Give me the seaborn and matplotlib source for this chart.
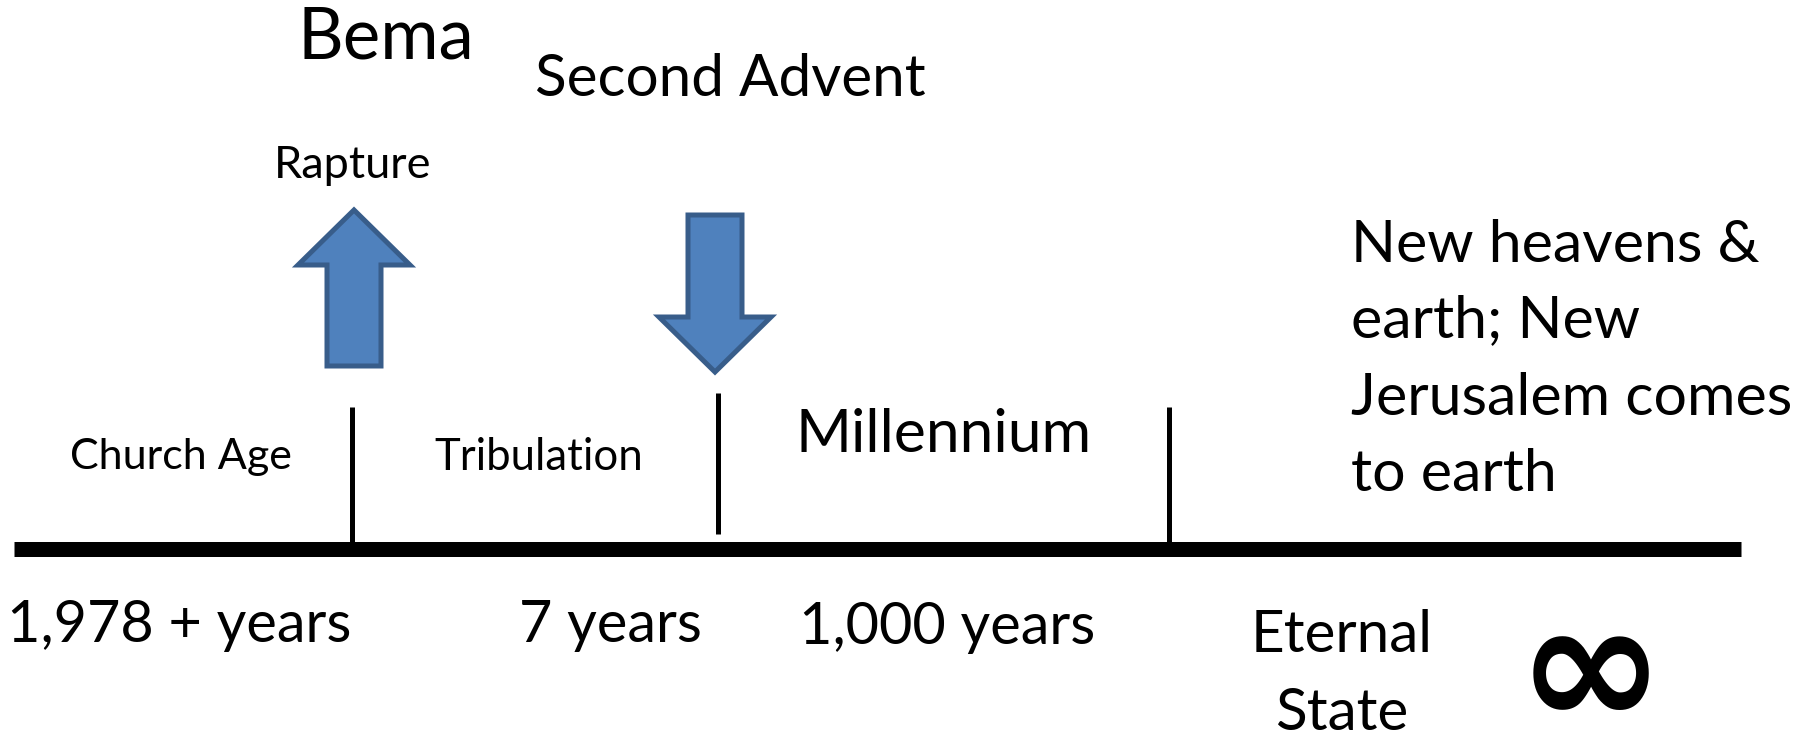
import numpy as np
import pandas as pd
import seaborn as sns
import matplotlib.pyplot as plt

# Zaman cizelgesi verileri (piksel koordinatlari, 1811x737 tuval)
timeline_start = 14
timeline_end = 1741
timeline_y = 549

divider_x = [352, 718, 1169]
divider_top = [407, 393, 407]
divider_bottom = [549, 534, 549]

era_labels = ["Church Age", "Tribulation", "Millennium"]
era_x = [181, 539, 944]
era_y = [457, 457, 435]
era_size = [31, 31.5, 43.5]

duration_labels = ["1,978 + years", "7 years", "1,000 years"]
duration_x = [179, 610, 947]
duration_y = [625, 625, 627]

event_labels = ["Bema", "Second Advent", "Rapture"]
event_x = [386, 730, 353]
event_y = [38, 79, 165]
event_size = [51, 42, 32.5]

eternal_lines = ["New heavens &", "earth; New", "Jerusalem comes", "to earth"]
eternal_line_y = [245, 321, 398, 474]

# oklar: (x, baslangic y, bitis y)
arrow_x = [354, 715]
arrow_from = [366, 215]
arrow_to = [210, 372]

sns.set_theme(style="white")
plt.rcParams['font.family'] = ['Lato', 'DejaVu Sans']

fig = plt.figure(figsize=(18.11, 7.37), dpi=100)
ax = fig.add_axes([0, 0, 1, 1])
ax.set_xlim(0, 1811)
ax.set_ylim(737, 0)
ax.axis('off')

# ana cizgi
line_df = pd.DataFrame({"x": [timeline_start, timeline_end], "y": [timeline_y, timeline_y]})
sns.lineplot(data=line_df, x="x", y="y", color="black", linewidth=10.8, ax=ax,
             solid_capstyle="butt")

ax.vlines(divider_x, divider_top, divider_bottom, color="black", linewidth=3.6)

for x, y0, y1 in zip(arrow_x, arrow_from, arrow_to):
    ax.arrow(x, y0, 0, y1 - y0, width=54, head_width=112, head_length=55,
             length_includes_head=True, facecolor="#4F81BD", edgecolor="#385D8A",
             linewidth=3.6, joinstyle="miter")

for lab, x, y, s in zip(era_labels, era_x, era_y, era_size):
    ax.text(x, y, lab, ha="center", va="center", fontsize=s, color="black")

for lab, x, y in zip(duration_labels, duration_x, duration_y):
    ax.text(x, y, lab, ha="center", va="center", fontsize=41.5, color="black")

for lab, x, y, s in zip(event_labels, event_x, event_y, event_size):
    ax.text(x, y, lab, ha="center", va="center", fontsize=s, color="black")

for lab, y in zip(eternal_lines, eternal_line_y):
    ax.text(1351, y, lab, ha="left", va="center", fontsize=42.5, color="black")

ax.text(1342, 636, "Eternal", ha="center", va="center", fontsize=42, color="black")
ax.text(1342, 713, "State", ha="center", va="center", fontsize=42, color="black")

ax.text(1591, 676, "\u221e", ha="center", va="center", fontsize=128,
        fontweight="bold", family=["DejaVu Sans"], color="black")

fig.savefig("out.png", dpi=100)
